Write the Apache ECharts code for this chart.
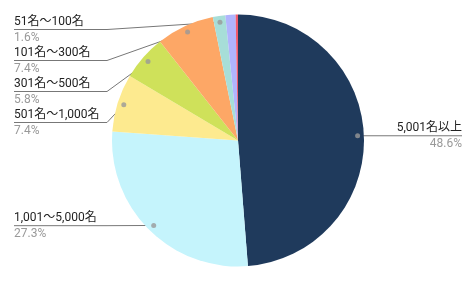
<!DOCTYPE html>
<html><head><meta charset="utf-8">
<script src="https://cdn.jsdelivr.net/npm/echarts@6/dist/echarts.min.js"></script>
<style>html,body{margin:0;padding:0;background:#fff}#c{width:476px;height:281px}</style>
</head><body><div id="c"></div>
<script>
const categories = ['5,001名以上', '1,001～5,000名', '501名～1,000名', '301名～500名', '101名～300名', '51名～100名', '1～50名', 'その他'];
const values = [48.6, 27.3, 7.4, 5.8, 7.4, 1.6, 1.3, 0.3];
const colors = ['#1f3a5c', '#c5f4fc', '#fdea8f', '#cfe15a', '#fda766', '#a7ded8', '#b0b4fd', '#f15b6c'];
const showLabel = [true, true, true, true, true, true, false, false];

const chart = echarts.init(document.getElementById('c'), null, {renderer: 'canvas'});
const R = 126;
const total = values.reduce((a, b) => a + b, 0);
let cum = 0;
const dots = [];
values.forEach((v, i) => {
  if (showLabel[i]) dots.push([0.95, cum + v / 2]);
  cum += v;
});
const FONT = "Roboto, 'Noto Sans CJK JP', sans-serif";
chart.setOption({
  animation: false,
  polar: {center: ['50%', '50%'], radius: R},
  angleAxis: {type: 'value', min: 0, max: total, startAngle: 90, clockwise: true, show: false},
  radiusAxis: {type: 'value', min: 0, max: 1, show: false},
  series: [{
    type: 'pie',
    top: 14,
    bottom: 14,
    left: 0,
    right: 0,
    center: ['50%', '50%'],
    radius: [0, R],
    startAngle: 90,
    clockwise: true,
    avoidLabelOverlap: true,
    data: categories.map((n, i) => ({
      name: n, value: values[i],
      itemStyle: {color: colors[i]},
      label: {show: showLabel[i]},
      labelLine: {show: showLabel[i]}
    })),
    label: {
      alignTo: 'edge',
      edgeDistance: 14,
      minMargin: 0,
      lineHeight: 16,
      formatter: '{n|{b}}\n{p|{c}%}',
      fontFamily: FONT,
      rich: {
        n: {fontSize: 12, color: '#222', lineHeight: 16, fontFamily: FONT},
        p: {fontSize: 12, color: '#999', lineHeight: 15, fontFamily: FONT}
      }
    },
    labelLine: {length: -6, length2: 0, lineStyle: {color: '#777', width: 1}},
    labelLayout: function (params) {
      const cx = chart.getWidth() / 2, cy = chart.getHeight() / 2;
      const isLeft = params.labelRect.x < cx;
      const pts = params.labelLinePoints;
      if (!pts) return {};
      const ly = pts[2][1];
      const p0 = [cx + (pts[0][0] - cx) * 0.95, cy + (pts[0][1] - cy) * 0.95];
      const p1 = [isLeft ? cx - R - 5 : cx + R + 5, ly];
      const p2 = [isLeft ? params.labelRect.x : params.labelRect.x + params.labelRect.width, ly];
      return {labelLinePoints: [p0, p1, p2]};
    }
  }, {
    type: 'scatter',
    coordinateSystem: 'polar',
    data: dots,
    symbol: 'circle',
    symbolSize: 5,
    itemStyle: {color: '#999'},
    silent: true,
    z: 5
  }]
});
</script></body></html>
